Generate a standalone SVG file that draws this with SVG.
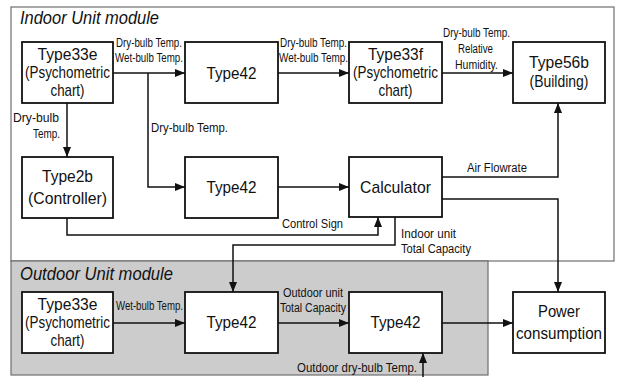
<svg xmlns="http://www.w3.org/2000/svg" width="618" height="377" viewBox="0 0 618 377">
  <style>
    .frame { fill: #ffffff; stroke: #6e6e6e; stroke-width: 1.2; }
    .zone { fill: #cccccc; stroke: #6e6e6e; stroke-width: 1.2; }
    .box { fill: #ffffff; stroke: #111111; stroke-width: 1.8; }
    .title { font-family: "Liberation Sans", Arial, sans-serif; font-style: italic; font-size: 18px; fill: #111111; }
    .nt { font-family: "Liberation Sans", Arial, sans-serif; font-size: 17px; fill: #111111; text-anchor: middle; }
    .lb { font-family: "Liberation Sans", Arial, sans-serif; font-size: 12.5px; fill: #111111; }
    .wire { fill: none; stroke: #111111; stroke-width: 1.5; marker-end: url(#arrow); }
  </style>
  <defs>
    <marker id="arrow" markerUnits="userSpaceOnUse" markerWidth="12" markerHeight="10" refX="10" refY="4" orient="auto">
      <path d="M0,0 L10,4 L0,8 Z" fill="#111111"/>
    </marker>
  </defs>

  <!-- module frames -->
  <rect class="frame" x="11" y="7" width="603" height="254"/>
  <rect class="zone" x="11" y="261" width="477" height="114"/>
  <text class="title" x="20" y="24" textLength="139" lengthAdjust="spacingAndGlyphs">Indoor Unit module</text>
  <text class="title" x="20" y="280" textLength="153" lengthAdjust="spacingAndGlyphs">Outdoor Unit module</text>

  <!-- indoor unit blocks -->
  <g id="in-type33e">
    <rect class="box" x="22" y="42" width="91" height="61"/>
    <text class="nt" x="67.5" y="60" textLength="60" lengthAdjust="spacingAndGlyphs">Type33e</text>
    <text class="nt" x="67.5" y="78" textLength="85" lengthAdjust="spacingAndGlyphs">(Psychometric</text>
    <text class="nt" x="67.5" y="96" textLength="34" lengthAdjust="spacingAndGlyphs">chart)</text>
  </g>
  <g id="in-type42-a">
    <rect class="box" x="185" y="42" width="93" height="61"/>
    <text class="nt" x="231.5" y="79" textLength="50" lengthAdjust="spacingAndGlyphs">Type42</text>
  </g>
  <g id="in-type33f">
    <rect class="box" x="349" y="42" width="93" height="61"/>
    <text class="nt" x="395.5" y="60" textLength="55" lengthAdjust="spacingAndGlyphs">Type33f</text>
    <text class="nt" x="395.5" y="78" textLength="85" lengthAdjust="spacingAndGlyphs">(Psychometric</text>
    <text class="nt" x="395.5" y="96" textLength="34" lengthAdjust="spacingAndGlyphs">chart)</text>
  </g>
  <g id="in-type56b">
    <rect class="box" x="513" y="42" width="92" height="61"/>
    <text class="nt" x="559" y="68" textLength="60" lengthAdjust="spacingAndGlyphs">Type56b</text>
    <text class="nt" x="559" y="87" textLength="59" lengthAdjust="spacingAndGlyphs">(Building)</text>
  </g>
  <g id="in-type2b">
    <rect class="box" x="22" y="157" width="91" height="61"/>
    <text class="nt" x="67.5" y="182" textLength="51" lengthAdjust="spacingAndGlyphs">Type2b</text>
    <text class="nt" x="67.5" y="204" textLength="79" lengthAdjust="spacingAndGlyphs">(Controller)</text>
  </g>
  <g id="in-type42-b">
    <rect class="box" x="185" y="157" width="93" height="61"/>
    <text class="nt" x="231.5" y="193" textLength="50" lengthAdjust="spacingAndGlyphs">Type42</text>
  </g>
  <g id="in-calculator">
    <rect class="box" x="349" y="157" width="93" height="60"/>
    <text class="nt" x="395.5" y="193" textLength="71" lengthAdjust="spacingAndGlyphs">Calculator</text>
  </g>

  <!-- outdoor unit blocks -->
  <g id="out-type33e">
    <rect class="box" x="22" y="292" width="91" height="61"/>
    <text class="nt" x="67.5" y="310" textLength="60" lengthAdjust="spacingAndGlyphs">Type33e</text>
    <text class="nt" x="67.5" y="328" textLength="85" lengthAdjust="spacingAndGlyphs">(Psychometric</text>
    <text class="nt" x="67.5" y="346" textLength="34" lengthAdjust="spacingAndGlyphs">chart)</text>
  </g>
  <g id="out-type42-a">
    <rect class="box" x="185" y="292" width="93" height="61"/>
    <text class="nt" x="231.5" y="328" textLength="50" lengthAdjust="spacingAndGlyphs">Type42</text>
  </g>
  <g id="out-type42-b">
    <rect class="box" x="349" y="292" width="93" height="61"/>
    <text class="nt" x="395.5" y="328" textLength="50" lengthAdjust="spacingAndGlyphs">Type42</text>
  </g>
  <g id="power">
    <rect class="box" x="513" y="292" width="92" height="61"/>
    <text class="nt" x="559" y="317" textLength="42" lengthAdjust="spacingAndGlyphs">Power</text>
    <text class="nt" x="559" y="339" textLength="86" lengthAdjust="spacingAndGlyphs">consumption</text>
  </g>

  <!-- connectors -->
  <g id="connectors">
    <path class="wire" d="M113,73 H185"/>
    <path class="wire" d="M148,73 V187 H185"/>
    <path class="wire" d="M67,103 V157"/>
    <path class="wire" d="M278,73 H349"/>
    <path class="wire" d="M442,73 H513"/>
    <path class="wire" d="M278,187 H349"/>
    <path class="wire" d="M442,177 H558 V103"/>
    <path class="wire" d="M442,199 H558 V292"/>
    <path class="wire" d="M67,218 V235 H378 V217"/>
    <path class="wire" d="M395,217 V245 H233 V292"/>
    <path class="wire" d="M113,323 H185"/>
    <path class="wire" d="M278,323 H349"/>
    <path class="wire" d="M442,323 H513"/>
    <path class="wire" d="M423,377 V353"/>
  </g>

  <!-- connector labels -->
  <g id="labels">
    <text class="lb" x="116" y="47" textLength="66" lengthAdjust="spacingAndGlyphs">Dry-bulb Temp.</text>
    <text class="lb" x="115" y="62" textLength="68" lengthAdjust="spacingAndGlyphs">Wet-bulb Temp.</text>
    <text class="lb" x="280" y="47" textLength="67" lengthAdjust="spacingAndGlyphs">Dry-bulb Temp.</text>
    <text class="lb" x="279" y="62" textLength="69" lengthAdjust="spacingAndGlyphs">Wet-bulb Temp.</text>
    <text class="lb" x="443" y="37" textLength="67" lengthAdjust="spacingAndGlyphs">Dry-bulb Temp.</text>
    <text class="lb" x="458" y="53" textLength="35" lengthAdjust="spacingAndGlyphs">Relative</text>
    <text class="lb" x="455" y="69" textLength="43" lengthAdjust="spacingAndGlyphs">Humidity.</text>
    <text class="lb" x="13" y="122" textLength="46" lengthAdjust="spacingAndGlyphs">Dry-bulb</text>
    <text class="lb" x="33" y="138" textLength="27" lengthAdjust="spacingAndGlyphs">Temp.</text>
    <text class="lb" x="151" y="132" font-size="14" textLength="77" lengthAdjust="spacingAndGlyphs">Dry-bulb Temp.</text>
    <text class="lb" x="467" y="172" textLength="60" lengthAdjust="spacingAndGlyphs">Air Flowrate</text>
    <text class="lb" x="282" y="228" textLength="61" lengthAdjust="spacingAndGlyphs">Control Sign</text>
    <text class="lb" x="401" y="238" textLength="55" lengthAdjust="spacingAndGlyphs">Indoor unit</text>
    <text class="lb" x="401" y="253" textLength="70" lengthAdjust="spacingAndGlyphs">Total Capacity</text>
    <text class="lb" x="116" y="310" textLength="67" lengthAdjust="spacingAndGlyphs">Wet-bulb Temp.</text>
    <text class="lb" x="283" y="297" textLength="60" lengthAdjust="spacingAndGlyphs">Outdoor unit</text>
    <text class="lb" x="280" y="312" textLength="66" lengthAdjust="spacingAndGlyphs">Total Capacity</text>
    <text class="lb" x="297" y="372" textLength="120" lengthAdjust="spacingAndGlyphs">Outdoor dry-bulb Temp.</text>
  </g>
</svg>
